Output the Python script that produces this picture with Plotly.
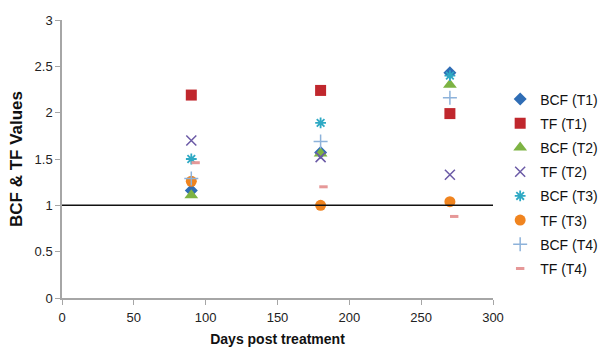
import plotly.graph_objects as go

days = [90, 180, 270]
days_tf_t4 = [93, 182, 273]

bcf_t1 = [1.16, 1.57, 2.43]
tf_t1 = [2.19, 2.24, 1.99]
bcf_t2 = [1.11, 1.56, 2.30]
tf_t2 = [1.70, 1.52, 1.33]
bcf_t3 = [1.50, 1.89, 2.40]
tf_t3 = [1.26, 1.00, 1.04]
bcf_t4 = [1.29, 1.69, 2.16]
tf_t4 = [1.46, 1.20, 0.88]

series = [
    ("BCF (T1)", days, bcf_t1, dict(symbol="diamond", size=10, color="#2f6db5")),
    ("TF (T1)", days, tf_t1, dict(symbol="square", size=11, color="#c0272d")),
    ("BCF (T2)", days, bcf_t2, dict(symbol="triangle-up", size=12, color="#7db343")),
    ("TF (T2)", days, tf_t2, dict(symbol="x-thin-open", size=10, color="#6b5aa6", line=dict(width=1.5, color="#6b5aa6"))),
    ("BCF (T3)", days, bcf_t3, dict(symbol="asterisk-open", size=9, color="#2ea9c4", line=dict(width=1.8, color="#2ea9c4"))),
    ("TF (T3)", days, tf_t3, dict(symbol="circle", size=11, color="#f0841f")),
    ("BCF (T4)", days, bcf_t4, dict(symbol="cross-thin-open", size=10, color="#8db2da", line=dict(width=1.5, color="#8db2da"))),
    ("TF (T4)", days_tf_t4, tf_t4, dict(symbol="line-ew-open", size=6, color="#e69898", line=dict(width=3, color="#e69898"))),
]

fig = go.Figure()
for name, x, y, m in series:
    fig.add_trace(go.Scatter(x=x, y=y, mode="markers", name=name, marker=m, legendgroup=name))

fig.add_shape(type="line", xref="paper", yref="y", x0=0, x1=1, y0=1, y1=1,
              line=dict(color="#111111", width=1.5))

axis_common = dict(showgrid=False, zeroline=False, showline=True, linecolor="#a6a6a6",
                   linewidth=1.5, ticks="outside", tickcolor="#a6a6a6", ticklen=5,
                   automargin=False,
                   tickfont=dict(family="Liberation Sans, Arial", size=13, color="#222222"))

fig.update_layout(
    width=599, height=347,
    margin=dict(l=62, r=106, t=20, b=49),
    paper_bgcolor="white", plot_bgcolor="white",
    font=dict(family="Liberation Sans, Arial", size=13, color="#222222"),
    legend=dict(xref="container", x=0.835, yref="paper", y=0.41, yanchor="middle", xanchor="left",
                font=dict(size=14, color="#111111"), tracegroupgap=3,
                itemwidth=30, bgcolor="rgba(0,0,0,0)"),
    xaxis=dict(range=[0, 300], tickvals=[0, 50, 100, 150, 200, 250, 300],
               title=dict(text="<b>Days post treatment</b>", font=dict(size=14, color="#111111"), standoff=10),
               ticklabelstandoff=2,
               **axis_common),
    yaxis=dict(range=[0, 3], tickvals=[0, 0.5, 1, 1.5, 2, 2.5, 3],
               title=dict(text="<b>BCF & TF Values</b>", font=dict(size=17, color="#111111"), standoff=8),
               **axis_common),
)

fig.write_html("out.html", config={"displayModeBar": False},
               post_script="document.body.style.margin='0';document.body.style.overflow='hidden';")
